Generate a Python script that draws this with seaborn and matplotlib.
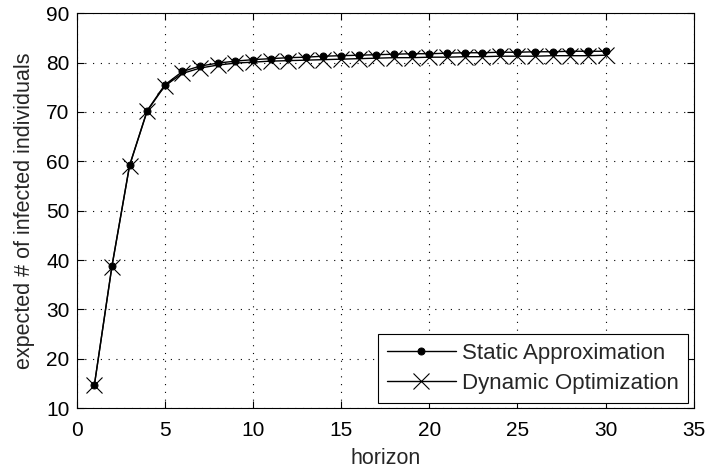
import matplotlib
matplotlib.use("Agg")
import matplotlib.pyplot as plt
import seaborn as sns
import pandas as pd

horizon = list(range(1, 31))
static_approx = [14.6, 38.8, 59.2, 70.3, 75.5, 78.2, 79.3, 79.9, 80.3, 80.6,
                 80.8, 81.0, 81.1, 81.3, 81.4, 81.5, 81.6, 81.7, 81.8, 81.8,
                 81.9, 82.0, 82.0, 82.1, 82.1, 82.2, 82.2, 82.3, 82.3, 82.3]
dynamic_opt = [14.6, 38.7, 59.1, 70.2, 75.3, 77.8, 78.9, 79.5, 79.9, 80.1,
               80.3, 80.4, 80.5, 80.6, 80.7, 80.8, 80.9, 81.0, 81.0, 81.1,
               81.1, 81.2, 81.2, 81.3, 81.3, 81.3, 81.4, 81.4, 81.4, 81.5]
x_ticks = [0, 5, 10, 15, 20, 25, 30, 35]
y_ticks = [10, 20, 30, 40, 50, 60, 70, 80, 90]

sns.set_style("white")
plt.rcParams['font.family'] = ['Liberation Sans', 'DejaVu Sans']

df = pd.DataFrame({"horizon": horizon, "static": static_approx, "dynamic": dynamic_opt})

fig = plt.figure(figsize=(7.1, 4.73), dpi=100)
ax = fig.add_axes([0.108, 0.137, 0.869, 0.835])

sns.lineplot(data=df, x="horizon", y="static", ax=ax, color="black", linewidth=1.0,
             marker="o", markersize=5, markeredgecolor="black", markerfacecolor="black",
             label="Static Approximation")
sns.lineplot(data=df, x="horizon", y="dynamic", ax=ax, color="black", linewidth=1.0,
             marker="x", markersize=12, markeredgewidth=0.8, markeredgecolor="black",
             label="Dynamic Optimization")

ax.set_xlim(0, 35)
ax.set_ylim(10, 90)
ax.set_xticks(x_ticks)
ax.set_yticks(y_ticks)
ax.grid(True, linestyle=(0, (1, 6)), color="black", linewidth=0.8)
for s in ax.spines.values():
    s.set_visible(True)
    s.set_color("black")
    s.set_linewidth(0.8)
ax.tick_params(direction="in", length=5, width=0.8, labelsize=15, colors="black",
               top=True, right=True, bottom=True, left=True)
ax.tick_params(axis="x", pad=9)
ax.tick_params(axis="y", pad=5)
ax.set_xlabel("horizon", fontsize=15.5, labelpad=6)
ax.set_ylabel("expected # of infected individuals", fontsize=15.5, labelpad=8)

leg = ax.legend(loc="lower right", fontsize=16, frameon=True, fancybox=False,
                edgecolor="black", handlelength=3.1, borderaxespad=0.25,
                labelspacing=0.4, handletextpad=0.3, borderpad=0.4)
leg.get_frame().set_linewidth(0.8)
leg.get_frame().set_alpha(1)

fig.savefig("out.png", dpi=100)
